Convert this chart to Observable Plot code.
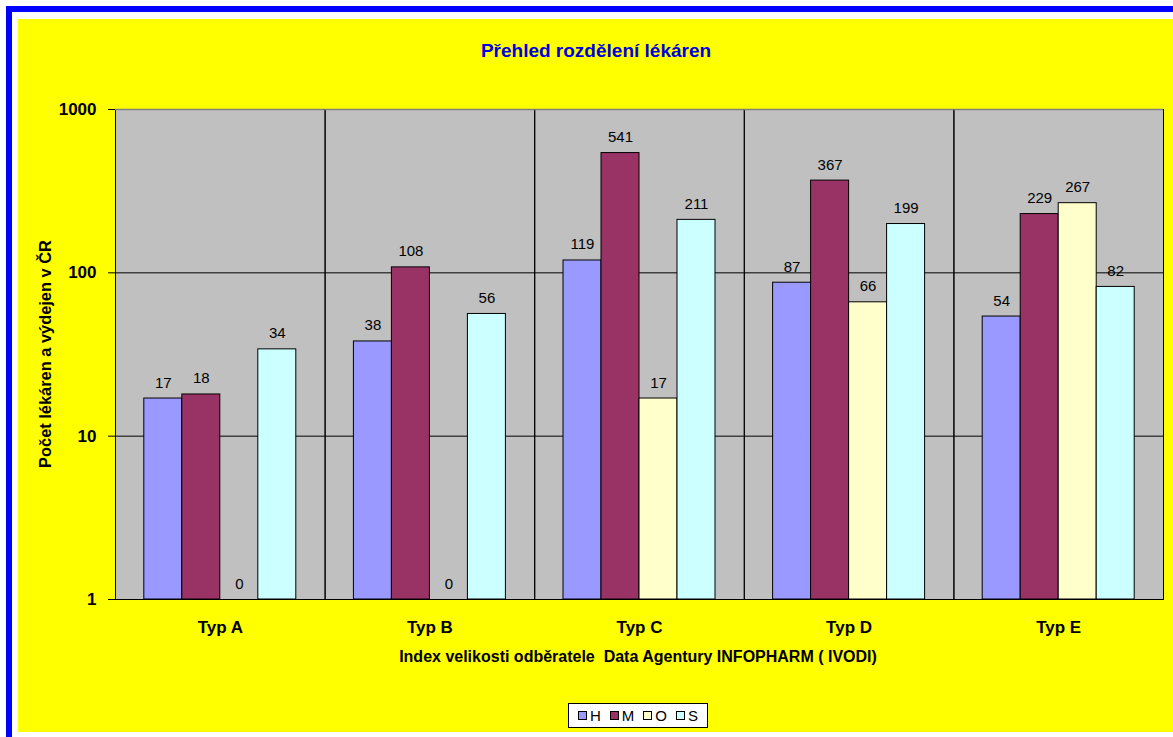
<!DOCTYPE html>
<html><head><meta charset="utf-8">
<script src="https://cdn.jsdelivr.net/npm/d3@7"></script>
<script src="https://cdn.jsdelivr.net/npm/@observablehq/plot@0.6"></script>
<style>
body{margin:0;width:1173px;height:737px;overflow:hidden;background:#fff;position:relative;font-family:"Liberation Sans",Arial,sans-serif;}
#border{position:absolute;left:6px;top:6px;width:1300px;height:900px;border:6px solid #0000FF;box-sizing:border-box}
#bg{position:absolute;left:18px;top:19px;width:1155px;height:713px;background:#FFFF00}
#chart{position:absolute;left:0;top:0}
.t{position:absolute;white-space:nowrap;font-weight:bold;transform:translate(-50%,-50%);line-height:1}
#title{left:596px;top:50px;font-size:19px;color:#0000DD}
#xtitle{left:638px;top:657px;font-size:16px;color:#000}
#ytitle{left:45px;top:354px;font-size:16.4px;color:#000;transform:translate(-50%,-50%) rotate(-90deg)}
#legend{position:absolute;left:568px;top:703px;width:140px;height:25px;box-sizing:border-box;border:1px solid #000;background:#fff;display:flex;align-items:center;justify-content:center;gap:9px;font-size:15px}
.item{display:flex;align-items:center;gap:3px}
.sw{width:9px;height:9px;border:1px solid #000;box-sizing:border-box}
</style>
</head><body>
<div id="border"></div>
<div id="bg"></div>
<div id="chart"></div>
<div class="t" id="title">Přehled rozdělení lékáren</div>
<div class="t" id="xtitle">Index velikosti odběratele&nbsp; Data Agentury INFOPHARM ( IVODI)</div>
<div class="t" id="ytitle">Počet lékáren a výdejen v ČR</div>
<div id="legend"></div>
<script>
const categories = ["Typ A", "Typ B", "Typ C", "Typ D", "Typ E"];
const seriesNames = ["H", "M", "O", "S"];
const seriesColors = ["#9999FF", "#993366", "#FFFFCC", "#CCFFFF"];
const valuesH = [17, 38, 119, 87, 54];
const valuesM = [18, 108, 541, 367, 229];
const valuesO = [0, 0, 17, 66, 267];
const valuesS = [34, 56, 211, 199, 82];
const yTicks = [1, 10, 100, 1000];
const gridValues = [10, 100];

const seriesValues = [valuesH, valuesM, valuesO, valuesS];
const data = [];
categories.forEach((c, i) => {
  seriesNames.forEach((s, j) => {
    data.push({cat: c, series: s, value: seriesValues[j][i]});
  });
});

const plot = Plot.plot({
  width: 1173,
  height: 737,
  marginLeft: 115,
  marginRight: 10,
  marginTop: 109,
  marginBottom: 138,
  style: {background: "transparent", fontFamily: "'Liberation Sans', Arial, sans-serif", fontSize: "17px", fontWeight: "bold", color: "#000"},
  fx: {domain: categories, padding: 0, round: false, label: null},
  x: {domain: seriesNames, paddingInner: 0, paddingOuter: 0.758, round: false, axis: null},
  y: {type: "log", domain: [1, 1000], label: null},
  color: {domain: seriesNames, range: seriesColors},
  marks: [
    Plot.frame({fill: "#C0C0C0"}),
    Plot.ruleY(gridValues, {stroke: "#000", strokeWidth: 1}),
    Plot.barY(data.filter(d => d.value > 0), {fx: "cat", x: "series", y1: 1, y2: "value", fill: "series", stroke: "#000", strokeWidth: 1}),
    Plot.text(data, {fx: "cat", x: "series", y: d => Math.max(d.value, 1), text: d => String(d.value), lineAnchor: "bottom", dy: -11, fontSize: 15, fontWeight: "normal", fill: "#000"}),
    Plot.frame({stroke: "#000", strokeWidth: 1}),
    Plot.ruleY([1000], {stroke: "#808080", strokeWidth: 1.5}),
    Plot.axisY({ticks: yTicks, tickFormat: d => String(d), tickSize: 7, tickPadding: 12, label: null, stroke: "#000"}),
    Plot.axisFx({anchor: "bottom", tickSize: 0, tickPadding: 21, label: null})
  ]
});
document.getElementById("chart").appendChild(plot);

const legend = document.getElementById("legend");
seriesNames.forEach((s, i) => {
  const it = document.createElement("div");
  it.className = "item";
  const sw = document.createElement("div");
  sw.className = "sw";
  sw.style.background = seriesColors[i];
  const lb = document.createElement("span");
  lb.textContent = s;
  it.appendChild(sw); it.appendChild(lb);
  legend.appendChild(it);
});
</script>
</body></html>
